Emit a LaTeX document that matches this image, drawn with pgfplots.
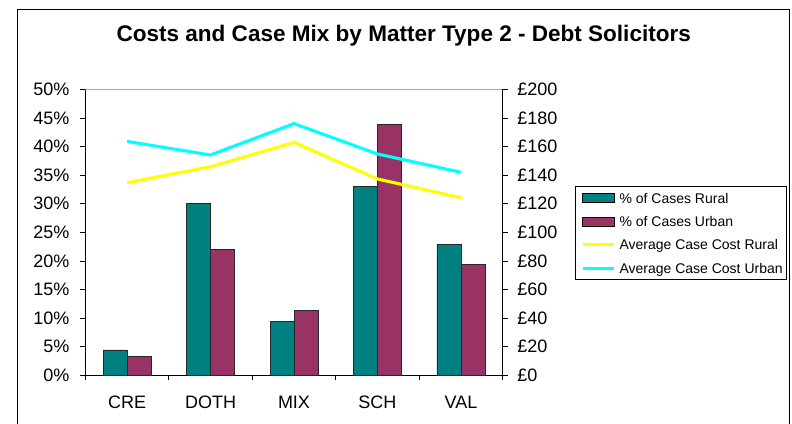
\documentclass[border=0pt]{standalone}
\usepackage{fontspec}
\setmainfont{Liberation Sans}
\usepackage{pgfplots}
\pgfplotsset{compat=1.18}
\definecolor{rural}{HTML}{008080}
\definecolor{urban}{HTML}{993366}
\definecolor{lyellow}{HTML}{FFFF00}
\definecolor{lcyan}{HTML}{00FFFF}
\pgfplotsset{
  common/.style={
    scale only axis, width=313pt, height=214.5pt,
    at={(64pt,-281.5pt)}, anchor=south west,
    xmin=-0.5, xmax=4.5,
    /pgf/number format/assume math mode=true,
    tick align=outside, major tick length=3.75pt,
    tick style={black, line width=0.6pt},
    axis line style={black, line width=0.75pt},
    ticklabel style={font=\fontsize{13.5pt}{16pt}\selectfont},
  },
  barleg/.style={legend image code/.code={\path (0pt,0pt); \draw[##1] (2.5pt,-3.4pt) rectangle (26.2pt,3.4pt);}},
  lineleg/.style={legend image code/.code={\path (0pt,0pt); \draw[##1] (2.5pt,0pt) -- (26.2pt,0pt);}},
}
\begin{document}
\begin{tikzpicture}
\useasboundingbox (0pt,0pt) rectangle (594pt,-318pt);
\clip (0pt,0pt) rectangle (594pt,-318pt);
\draw[black, line width=1pt] (13pt,-330pt) -- (13pt,-7pt) -- (592pt,-7pt) -- (592pt,-330pt);
\node[font=\bfseries\fontsize{16.9pt}{19pt}\selectfont, anchor=base] at (302.8pt,-31.3pt) {Costs and Case Mix by Matter Type 2 - Debt Solicitors};
\begin{axis}[common,
  axis x line*=bottom, axis y line*=left,
  ymin=0, ymax=50, ytick={0,5,...,50},
  yticklabel={\pgfmathprintnumber{\tick}\%},
  yticklabel style={anchor=east, inner sep=0pt, xshift=-8pt},
  xtick={-0.5,0.5,...,4.5}, x tick label as interval,
  xticklabels={CRE,DOTH,MIX,SCH,VAL},
  xticklabel style={anchor=base, inner sep=0pt, yshift=-21pt},
]
\addplot[ybar, bar width=18pt, bar shift=-9pt, fill=rural, draw=black!85, line width=0.6pt]
  coordinates {(0,4.43) (1,30.0) (2,9.44) (3,33.0) (4,22.96)};
\addplot[ybar, bar width=18pt, bar shift=9pt, fill=urban, draw=black!85, line width=0.6pt]
  coordinates {(0,3.38) (1,21.97) (2,11.3) (3,43.8) (4,19.35)};
\draw[gray!70, line width=0.6pt] (rel axis cs:0,1) -- (rel axis cs:1,1);
\end{axis}
\begin{axis}[common,
  axis x line=none, axis y line*=right,
  ymin=0, ymax=200, ytick={0,20,...,200},
  yticklabel={£\pgfmathprintnumber{\tick}},
  yticklabel style={anchor=west, inner sep=0pt, xshift=7pt},
  legend style={at={(1.174,0.662)}, anchor=north west,
    draw=black, line width=0.75pt, inner xsep=1.5pt, inner ysep=5pt,
    row sep=10pt, column sep=1.3pt,
    font=\fontsize{10.5pt}{12pt}\selectfont,
    nodes={inner xsep=1.5pt, inner ysep=0pt, text height=7.5pt, text depth=0pt}},
  legend cell align=left,
]
\addlegendimage{barleg, fill=rural, draw=black, line width=0.6pt}
\addlegendentry{\% of Cases Rural}
\addlegendimage{barleg, fill=urban, draw=black, line width=0.6pt}
\addlegendentry{\% of Cases Urban}
\addplot[lineleg, lyellow, line width=2.3pt] coordinates {(0,134.7) (1,145.9) (2,162.9) (3,137.3) (4,124.2)};
\addlegendentry{Average Case Cost Rural}
\addplot[lineleg, lcyan, line width=2.3pt] coordinates {(0,163.6) (1,154.1) (2,176.0) (3,154.8) (4,142.0)};
\addlegendentry{Average Case Cost Urban}
\end{axis}
\end{tikzpicture}
\end{document}
